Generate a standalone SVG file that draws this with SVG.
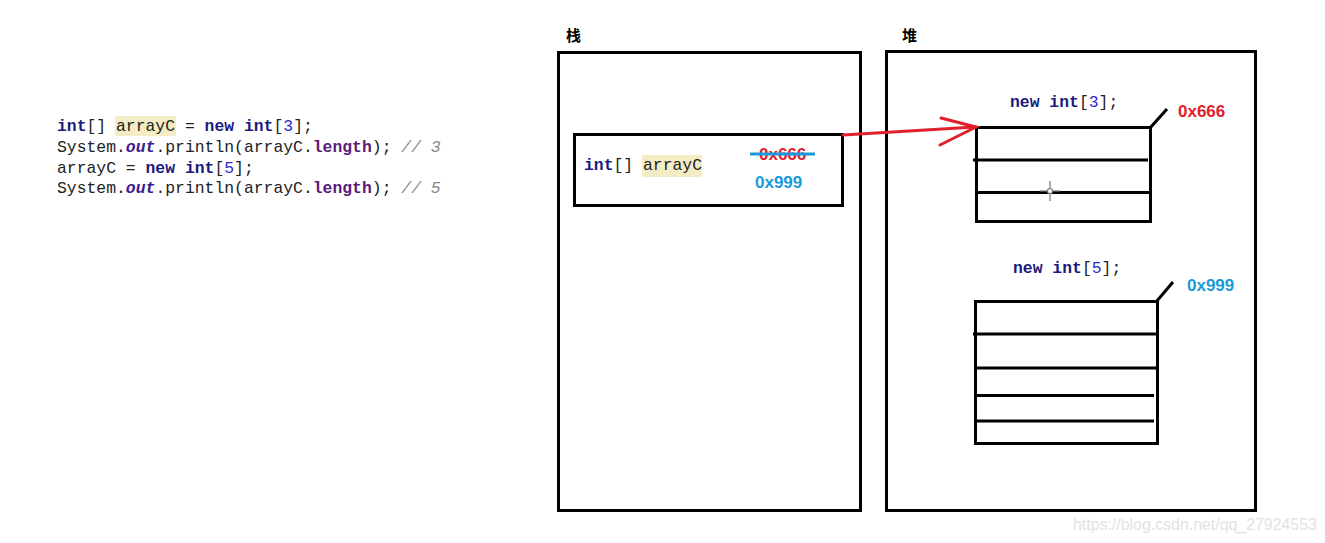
<svg xmlns="http://www.w3.org/2000/svg" width="1325" height="543" viewBox="0 0 1325 543">
<style>
.code{font-family:"Liberation Mono","DejaVu Sans Mono",monospace;font-size:16.4px;fill:#222}
.kw{font-weight:bold;fill:#1a1a7e}
.num{fill:#2a2ad0}
.fld{font-weight:bold;font-style:italic;fill:#3b1a8c}
.len{font-weight:bold;fill:#5b1a7a}
.cmt{font-style:italic;fill:#8a8a8a}
.hl{fill:#f3ecc4}
.box{fill:none;stroke:#000;stroke-width:3}
.cell{stroke:#000;stroke-width:3;fill:none}
.cjk{font-family:"Noto Sans CJK SC",sans-serif;font-weight:bold;font-size:15px;fill:#000}
.addr{font-family:"Liberation Sans",Arial,sans-serif;font-weight:bold;font-size:17px}
.red{fill:#e0202a}
.blue{fill:#1a9ad8}
</style>
<rect width="1325" height="543" fill="#fff"/>

<g id="code">
<rect class="hl" x="115" y="116" width="61" height="20"/>
<text class="code" x="57" y="131"><tspan class="kw">int</tspan>[] arrayC = <tspan class="kw">new</tspan> <tspan class="kw">int</tspan>[<tspan class="num">3</tspan>];</text>
<text class="code" x="57" y="152">System.<tspan class="fld">out</tspan>.println(arrayC.<tspan class="len">length</tspan>); <tspan class="cmt">// 3</tspan></text>
<text class="code" x="57" y="172.5">arrayC = <tspan class="kw">new</tspan> <tspan class="kw">int</tspan>[<tspan class="num">5</tspan>];</text>
<text class="code" x="57" y="193">System.<tspan class="fld">out</tspan>.println(arrayC.<tspan class="len">length</tspan>); <tspan class="cmt">// 5</tspan></text>
</g>

<g id="stack">
<text class="cjk" x="566" y="41">栈</text>
<rect class="box" x="558.5" y="52.5" width="302" height="458"/>
</g>

<g id="stack-var">
<rect class="box" x="574.5" y="134.5" width="268" height="71"/>
<rect class="hl" x="642" y="155" width="60" height="22"/>
<text class="code" x="584" y="170"><tspan class="kw">int</tspan>[] arrayC</text>
<text class="addr red" x="759" y="160">0x666</text>
<line x1="750" y1="154" x2="815" y2="154" stroke="#1a9ad8" stroke-width="3"/>
<text class="addr blue" x="755" y="188">0x999</text>
</g>

<g id="heap">
<text class="cjk" x="902" y="41">堆</text>
<rect class="box" x="886.5" y="51.5" width="369" height="459"/>
</g>

<g id="array3">
<text class="code" x="1010" y="107"><tspan class="kw">new</tspan> <tspan class="kw">int</tspan>[<tspan class="num">3</tspan>];</text>
<rect class="cell" x="976.5" y="127.5" width="174" height="94"/>
<line class="cell" x1="973" y1="160" x2="1148" y2="160"/>
<line class="cell" x1="976" y1="192.5" x2="1150" y2="192.5"/>
<line class="cell" x1="1150" y1="128" x2="1167" y2="109"/>
<text class="addr red" x="1178" y="117">0x666</text>
<g stroke="#777" stroke-width="1.2" fill="none">
<line x1="1050" y1="181" x2="1050" y2="201"/>
<line x1="1040" y1="191" x2="1060" y2="191"/>
<circle cx="1050" cy="191" r="2.5" fill="#fff"/>
</g>
</g>

<g id="array5">
<text class="code" x="1013" y="273"><tspan class="kw">new</tspan> <tspan class="kw">int</tspan>[<tspan class="num">5</tspan>];</text>
<rect class="cell" x="975.5" y="301.5" width="182" height="142"/>
<line class="cell" x1="973" y1="334" x2="1156" y2="334"/>
<line class="cell" x1="975" y1="368" x2="1156" y2="368"/>
<line class="cell" x1="975" y1="395.5" x2="1154" y2="395.5"/>
<line class="cell" x1="975" y1="421" x2="1154" y2="421"/>
<line class="cell" x1="1156" y1="302" x2="1173" y2="282"/>
<text class="addr blue" x="1187" y="291">0x999</text>
</g>

<g id="connectors" stroke="#e0202a" stroke-width="3" fill="none" stroke-linecap="round">
<path d="M843,135 L975,127"/>
<path d="M941,118 L976,127 L940,145"/>
</g>

<text x="1073" y="530" font-family="Liberation Sans,Arial,sans-serif" font-size="15.9" fill="#e2e2e2">https://blog.csdn.net/qq_27924553</text>
</svg>
